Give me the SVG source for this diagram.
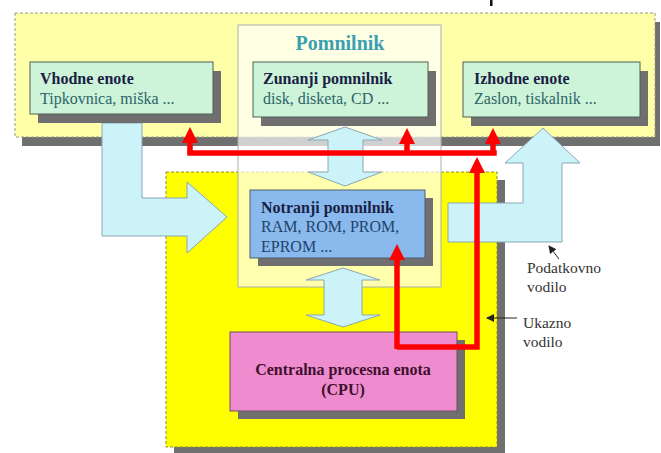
<svg xmlns="http://www.w3.org/2000/svg" width="661" height="453" viewBox="0 0 661 453">
<style>
text{font-family:"Liberation Serif","Times New Roman",serif;font-size:16px}
.shadow{fill:#6f6f6f}
.box{fill:#cdf3d8;stroke:#4f5f55;stroke-width:1}
.t1{font-weight:bold;fill:#1a1f45}
.t2{fill:#2e6468}
.cyan{fill:#ccf4f8;stroke:#8aa6b6;stroke-width:1}
.red{fill:none;stroke:#ff0000;stroke-width:5.5}
.lbl{fill:#333;font-size:15.5px}
.ptr{stroke:#222;stroke-width:1;fill:none}
</style>
<defs>
<marker id="rh" markerUnits="userSpaceOnUse" viewBox="0 0 16 16" markerWidth="16" markerHeight="16" refX="4" refY="8" orient="auto"><path d="M0,0 L16,8 L0,16 z" fill="#ff0000"/></marker>
<marker id="bh" markerUnits="userSpaceOnUse" viewBox="0 0 8 8" markerWidth="8" markerHeight="8" refX="7" refY="4" orient="auto"><path d="M0,0 L8,4 L0,8 z" fill="#222"/></marker>
</defs>
<rect x="0" y="0" width="661" height="453" fill="#ffffff"/>
<rect x="490" y="0" width="2.5" height="6" fill="#111"/>
<g id="periphery">
<rect class="shadow" x="22" y="22" width="638" height="124"/>
<rect x="15" y="13" width="640" height="124" fill="#ffffaa" stroke="#9a9a80" stroke-width="1" stroke-dasharray="3,2"/>
</g>
<g id="computer">
<rect class="shadow" x="174" y="180" width="331" height="273"/>
<rect x="166" y="172" width="331" height="275" fill="#ffff00" stroke="#8a8a40" stroke-width="1" stroke-dasharray="3,2"/>
</g>
<g id="pomnilnik">
<rect x="238" y="25" width="203" height="262" fill="#ffffff" fill-opacity="0.68" stroke="#aab0a8" stroke-width="1"/>
<text x="340" y="50" text-anchor="middle" font-weight="bold" fill="#3a9fb2" style="font-size:20px">Pomnilnik</text>
</g>
<g id="connectors">
<polygon class="cyan" points="102,123 142,123 142,198 187,198 187,182 227,217 187,253 187,236 102,236"/>
<polygon class="cyan" points="543,128 580,163 562,163 562,242 448,242 448,203 523,203 523,163 505,163"/>
<polygon class="cyan" points="345,127 382,140 363,140 363,172 382,172 345,186 308,172 328,172 328,140 308,140"/>
<polygon class="cyan" points="343,268 380,280 362,280 362,315 380,315 343,327 306,315 324,315 324,280 306,280"/>
</g>
<g id="vhodne">
<rect class="shadow" x="38" y="71" width="183" height="52"/>
<rect class="box" x="30" y="62" width="183" height="52"/>
<text class="t1" x="40" y="84">Vhodne enote</text>
<text class="t2" x="40" y="104">Tipkovnica, miška ...</text>
</g>
<g id="zunanji">
<rect class="shadow" x="261" y="71" width="175" height="55"/>
<rect class="box" x="253" y="62" width="175" height="55"/>
<text class="t1" x="263" y="84">Zunanji pomnilnik</text>
<text class="t2" x="263" y="104">disk, disketa, CD ...</text>
</g>
<g id="izhodne">
<rect class="shadow" x="471" y="71" width="177" height="55"/>
<rect class="box" x="463" y="62" width="177" height="55"/>
<text class="t1" x="474" y="84">Izhodne enote</text>
<text class="t2" x="474" y="104">Zaslon, tiskalnik ...</text>
</g>
<g id="notranji">
<rect class="shadow" x="258" y="198" width="175" height="68"/>
<rect x="250" y="190" width="175" height="68" fill="#8ab9ee" stroke="#4f5f70" stroke-width="1"/>
<text class="t1" x="261" y="213">Notranji pomnilnik</text>
<text x="261" y="232" fill="#1f4468">RAM, ROM, PROM,</text>
<text x="261" y="252" fill="#1f4468">EPROM ...</text>
</g>
<g id="cpu">
<rect class="shadow" x="238" y="340" width="227" height="79"/>
<rect x="230" y="332" width="227" height="79" fill="#ee8ccf" stroke="#6f4f60" stroke-width="1"/>
<text x="343" y="375" text-anchor="middle" font-weight="bold" fill="#40102e">Centralna procesna enota</text>
<text x="343" y="395" text-anchor="middle" font-weight="bold" fill="#40102e">(CPU)</text>
</g>
<g id="buses">
<path class="red" d="M190,153 H494" stroke-linecap="square"/>
<path class="red" d="M190,153 V139" marker-end="url(#rh)"/>
<path class="red" d="M407,153 V140" marker-end="url(#rh)"/>
<path class="red" d="M493,153 V140" marker-end="url(#rh)"/>
<path class="red" d="M397,347 H477 V169" marker-end="url(#rh)"/>
<path class="red" d="M397,349 V256" marker-end="url(#rh)"/>
<path class="ptr" d="M559,259 L549,246" marker-end="url(#bh)"/>
<path class="ptr" d="M517,318 L487,318" marker-end="url(#bh)"/>
</g>
<g id="labels">
<text class="lbl" x="527" y="273">Podatkovno</text>
<text class="lbl" x="527" y="292">vodilo</text>
<text class="lbl" x="523" y="328">Ukazno</text>
<text class="lbl" x="523" y="347">vodilo</text>
</g>
</svg>
